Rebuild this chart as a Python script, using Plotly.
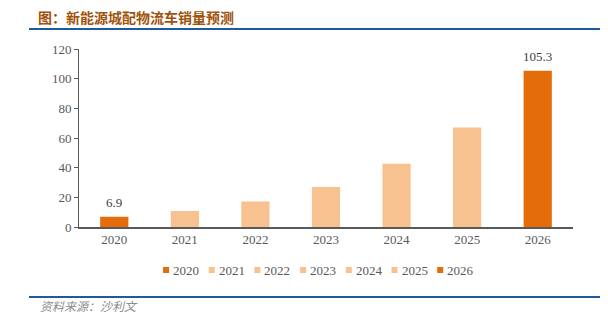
import plotly.graph_objects as go

years = ["2020", "2021", "2022", "2023", "2024", "2025", "2026"]
values = [6.9, 10.8, 17.2, 26.9, 42.6, 67.0, 105.3]
labels = ["6.9", "", "", "", "", "", "105.3"]
colors = ["#E46C0A", "#F8C290", "#F8C290", "#F8C290", "#F8C290", "#F8C290", "#E46C0A"]

W, H = 608, 318
ml, mr, mt, mb = 79, 35, 49, 91
pw, ph = W - ml - mr, H - mt - mb

def px_x(x):
    return (x - ml) / pw

def px_y(y):
    return (H - mb - y) / ph

serif = "Liberation Serif, Times New Roman, serif"

fig = go.Figure()
for y, v, c in zip(years, values, colors):
    fig.add_trace(go.Bar(
        x=[y], y=[v], name=y, marker=dict(color=c, line=dict(width=0)),
        width=0.4, showlegend=False,
    ))

annotations = []
for i, (v, lab) in enumerate(zip(values, labels)):
    if lab:
        annotations.append(dict(text=lab, x=i, y=v, xref="x", yref="y", yanchor="bottom",
                                yshift=5, showarrow=False,
                                font=dict(family=serif, size=13, color="#404040")))

# manual legend (small square markers like the reference)
shapes = []
leg_x0, leg_pitch, leg_y, msz = 163, 45.7, 270, 6
for i, (y, c) in enumerate(zip(years, colors)):
    x0 = leg_x0 + i * leg_pitch
    shapes.append(dict(type="rect", xref="paper", yref="paper",
                       x0=px_x(x0), x1=px_x(x0 + msz),
                       y0=px_y(leg_y + msz / 2), y1=px_y(leg_y - msz / 2),
                       fillcolor=c, line=dict(width=0)))
    annotations.append(dict(text=y, xref="paper", yref="paper", x=px_x(x0 + msz + 2),
                            y=px_y(leg_y), xanchor="left", yanchor="middle", showarrow=False,
                            font=dict(family=serif, size=13, color="#595959")))

shapes += [
    dict(type="line", xref="paper", yref="paper", x0=px_x(29), x1=px_x(600),
         y0=px_y(29), y1=px_y(29), line=dict(color="#1F5A9E", width=2)),
    dict(type="line", xref="paper", yref="paper", x0=px_x(29), x1=px_x(600),
         y0=px_y(297), y1=px_y(297), line=dict(color="#1F5A9E", width=2)),
]
annotations.append(dict(text="<i>资料来源：沙利文</i>", xref="paper", yref="paper",
                        x=px_x(38), y=px_y(305), xanchor="left", yanchor="middle",
                        showarrow=False,
                        font=dict(family="Noto Sans CJK SC", size=12, color="#8C8C8C")))

fig.update_layout(
    width=W, height=H,
    margin=dict(l=ml, r=mr, t=mt, b=mb),
    paper_bgcolor="white", plot_bgcolor="white",
    barmode="overlay",
    showlegend=False,
    title=dict(text="<b>图：新能源城配物流车销量预测</b>", x=38 / W, y=1 - 18 / H,
               xanchor="left", yanchor="middle", xref="container",
               font=dict(family="Noto Sans CJK SC", size=14, color="#A0520A")),
    xaxis=dict(type="category", categoryorder="array", categoryarray=years,
               range=[-0.5, len(years) - 0.5],
               showline=True, linecolor="#595959", linewidth=1.5,
               ticks="", tickfont=dict(family=serif, size=13, color="#595959"),
               showgrid=False),
    yaxis=dict(range=[0, 120], dtick=20, showline=True, linecolor="#595959", linewidth=1,
               ticks="outside", ticklen=4, tickcolor="#595959", showgrid=False,
               tickfont=dict(family=serif, size=13, color="#595959"), zeroline=False),
    shapes=shapes,
    annotations=annotations,
)

fig.write_html("out.html")
